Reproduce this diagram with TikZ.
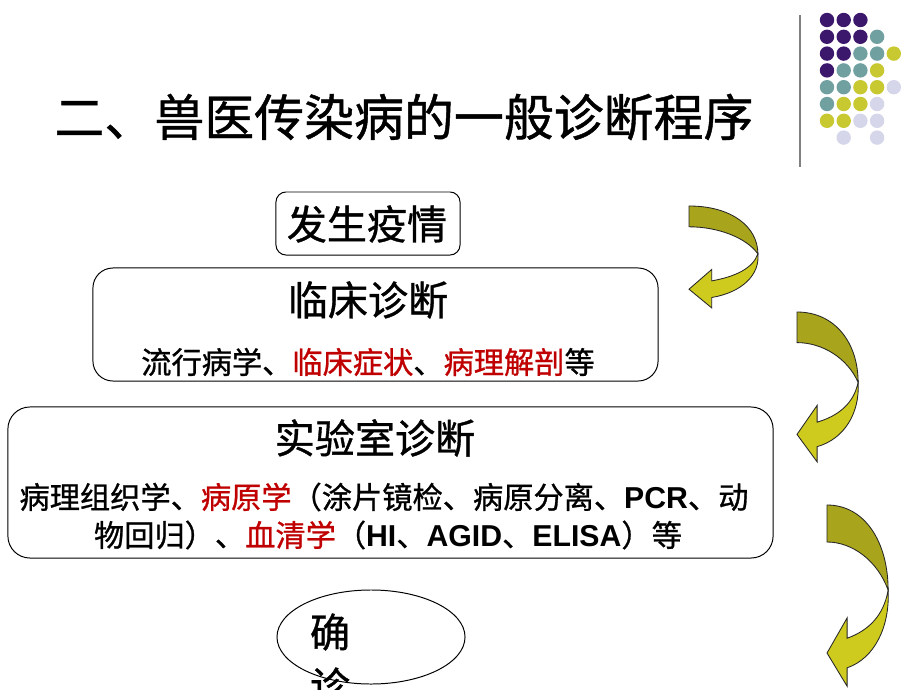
\documentclass[tikz,border=0pt]{standalone}
\usepackage{fontspec}
\setmainfont{Noto Sans CJK SC}[FakeBold=0.9]
\newfontfamily\latb{Liberation Sans}
\usepackage{tikz}
\usetikzlibrary{shapes.geometric}
\definecolor{dotp}{RGB}{60,24,108}
\definecolor{dott}{RGB}{112,160,160}
\definecolor{doty}{RGB}{200,200,48}
\definecolor{dotl}{RGB}{214,214,234}
\definecolor{olvback}{RGB}{168,164,28}
\definecolor{olvfront}{RGB}{206,202,30}
\definecolor{hotred}{RGB}{192,0,0}
\newcommand\titlesize{\fontsize{35.5pt}{40pt}\selectfont}
\newcommand\headsize{\fontsize{28.5pt}{32pt}\selectfont}
\newcommand\bodysize{\fontsize{21.5pt}{26pt}\selectfont}
\newcommand\abc[1]{{\latb\bfseries #1}}
\tikzset{
  curlarrow/.pic={
    \filldraw[olvback,draw=black!85,line width=0.6pt] (0,0) .. controls (0.6,0) and (0.97,0.2) .. (0.97,0.46) .. controls (0.8,0.3) and (0.4,0.2) .. (0,0.2) -- cycle;
    \filldraw[olvfront,draw=black!85,line width=0.6pt] (0.97,0.46) .. controls (1.0,0.66) and (0.75,0.83) .. (0.32,0.88) -- (0.32,0.98) -- (0,0.8) -- (0.32,0.61) -- (0.32,0.72) .. controls (0.65,0.68) and (0.9,0.6) .. (0.97,0.46) -- cycle;
  }
}
\begin{document}
\begin{tikzpicture}[x=0.025cm,y=-0.025cm,
  txt/.style={inner sep=0pt},
  box/.style={draw=black,line width=0.7pt,rounded corners=#1},
  dot/.style={fill=#1,draw=none}]
\clip (0,0) rectangle (920,690);
\fill[white] (0,0) rectangle (920,690);

\node (title) [txt] at (404,117) {\titlesize 二、兽医传染病的一般诊断程序};
\draw[black!50,line width=1.2pt] (800,15) -- (800,167);
\foreach \i/\j/\c in {0/0/dotp,1/0/dotp,2/0/dotp,
  0/1/dotp,1/1/dotp,2/1/dotp,3/1/dott,
  0/2/dotp,1/2/dotp,2/2/dott,3/2/dott,4/2/doty,
  0/3/dotp,1/3/dott,2/3/dott,3/3/doty,
  0/4/dott,1/4/dott,2/4/doty,3/4/doty,4/4/dotl,
  0/5/dott,1/5/doty,2/5/doty,3/5/dotl,
  0/6/doty,1/6/doty,2/6/dotl,3/6/dotl,
  1/7/dotl,3/7/dotl}
  \fill[dot=\c] (827+16.7*\i,20+16.8*\j) circle[radius=7.2];

\node (fasheng) [box=0.25cm,minimum width=4.6cm,minimum height=1.575cm] at (368,223.5) {};
\node (fashengt) [txt] at (367,224) {\headsize 发生疫情};

\node (linchuang) [box=0.5cm,minimum width=14.125cm,minimum height=2.825cm] at (375.5,324.5) {};
\node (linchuangt) [txt] at (368,300) {\headsize 临床诊断};
\node (linchuangs) [txt] at (368,362) {\bodysize 流行病学、\textcolor{hotred}{临床症状}、\textcolor{hotred}{病理解剖}等};

\node (shiyan) [box=0.55cm,minimum width=19.125cm,minimum height=3.775cm] at (390.5,482.5) {};
\node (shiyant) [txt] at (375,438) {\headsize 实验室诊断};
\node (shiyana) [txt] at (384,497) {\bodysize 病理组织学、\textcolor{hotred}{病原学}（涂片镜检、病原分离、\abc{PCR}、动};
\node (shiyanb) [txt] at (388,535) {\bodysize 物回归）、\textcolor{hotred}{血清学}（\abc{HI}、\abc{AGID}、\abc{ELISA}）等};

\node (queding) [draw=black,line width=0.7pt,ellipse,minimum width=4.7cm,minimum height=2.35cm] at (371,637) {};
\node (que) [txt] at (330,632) {\headsize 确};
\node (zhen) [txt] at (330,686) {\headsize 诊};

\pic at (689,206) [xscale=71,yscale=104] {curlarrow};
\pic at (797,312) [xscale=63,yscale=153] {curlarrow};
\pic at (827,505) [xscale=63,yscale=185] {curlarrow};
\end{tikzpicture}
\end{document}
